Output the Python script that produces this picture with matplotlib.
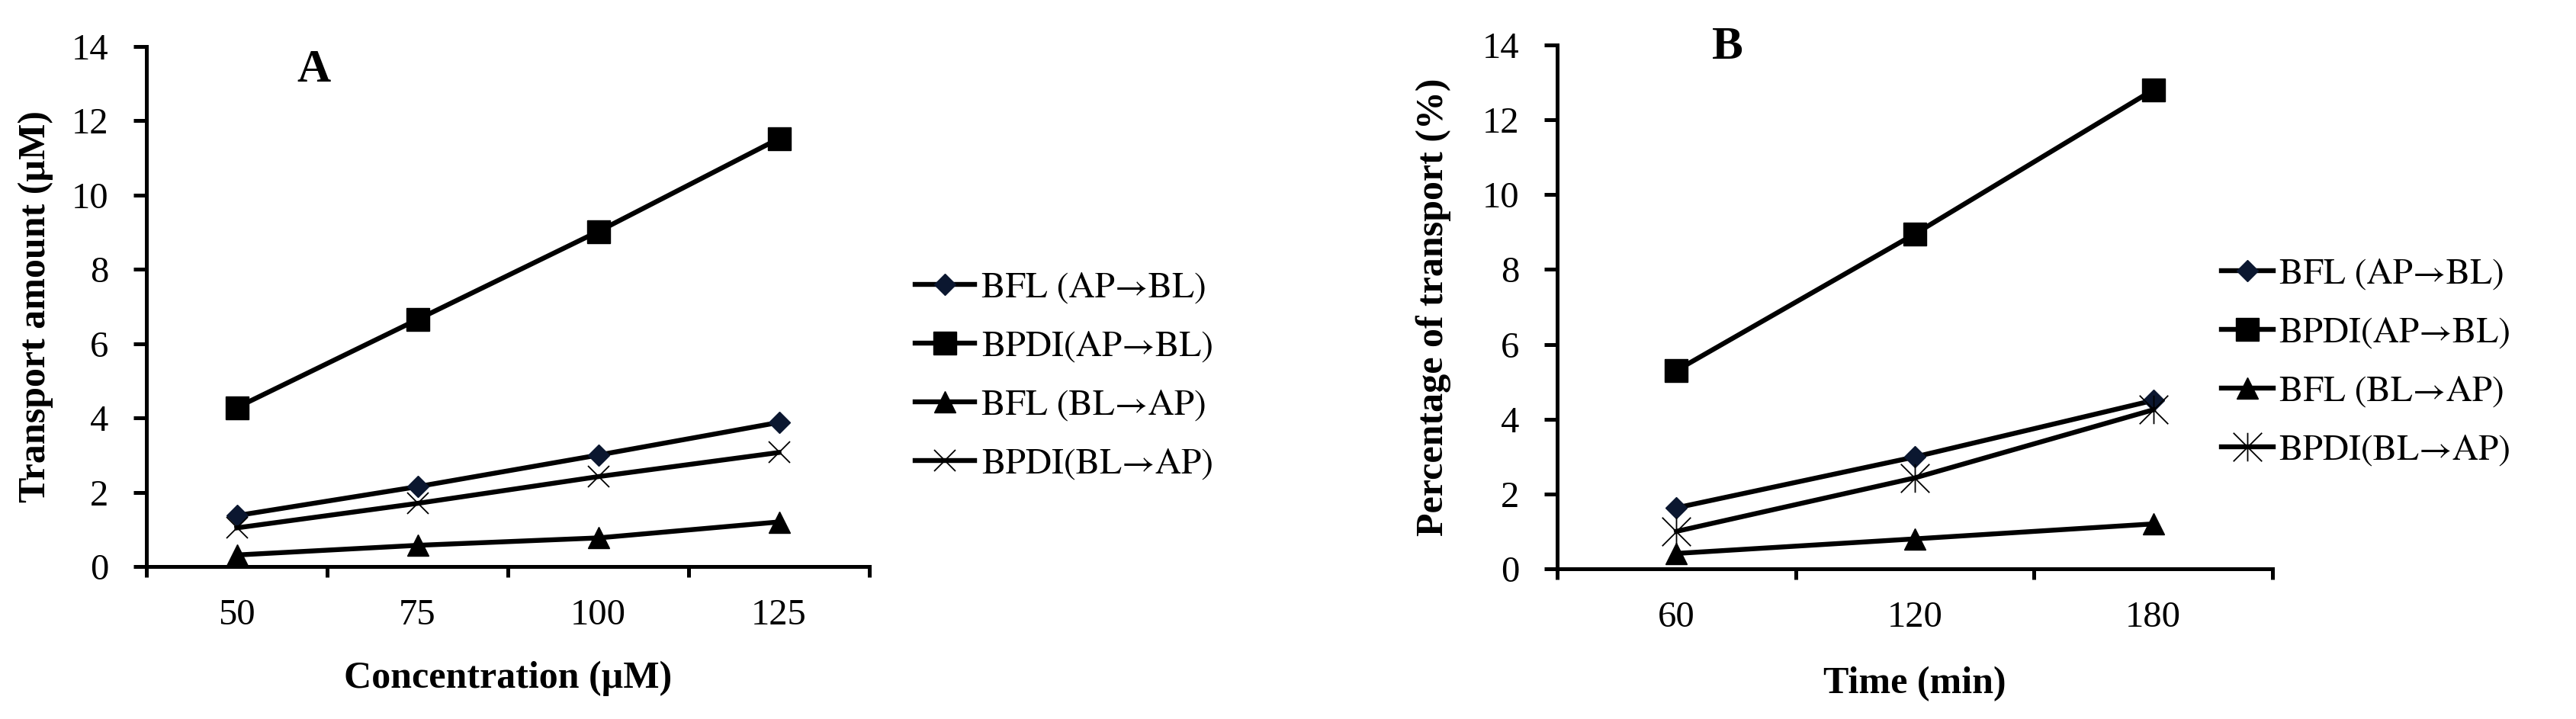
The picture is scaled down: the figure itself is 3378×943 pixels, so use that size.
import numpy as np
import matplotlib.pyplot as plt
from matplotlib.path import Path

plt.rcParams['font.family'] = ['Liberation Serif', 'DejaVu Serif']

# panel A: concentration series
conc = ['50', '75', '100', '125']
a_bfl_ap = [1.37, 2.15, 3.0, 3.88]
a_bpdi_ap = [4.28, 6.65, 9.02, 11.52]
a_bfl_bl = [0.31, 0.57, 0.77, 1.2]
a_bpdi_bl = [1.04, 1.7, 2.42, 3.07]

# panel B: time series
times = ['60', '120', '180']
b_bfl_ap = [1.63, 2.99, 4.5]
b_bpdi_ap = [5.3, 8.95, 12.8]
b_bfl_bl = [0.41, 0.8, 1.2]
b_bpdi_bl = [1.0, 2.43, 4.25]

labels = ['BFL (AP→BL)', 'BPDI(AP→BL)', 'BFL (BL→AP)', 'BPDI(BL→AP)']

star = Path([(-1, -1), (1, 1), (-1, 1), (1, -1), (0, -1), (0, 1)],
            [Path.MOVETO, Path.LINETO] * 3)

fig = plt.figure(figsize=(33.78, 9.43), dpi=100)
axA = fig.add_axes([192 / 3378, 1 - 743 / 943, 948 / 3378, 682 / 943])
axB = fig.add_axes([2042 / 3378, 1 - 746 / 943, 938 / 3378, 687 / 943])

lw = 4.6


def draw(ax, cats, s1, s2, s3, s4, xmark, xms):
    x = np.arange(len(cats)) + 0.5
    ax.plot(x, s1, color='black', lw=lw, marker='D', ms=14.5,
            mfc='#0b1730', mec='#0b1730', label=labels[0])
    ax.plot(x, s2, color='black', lw=lw, marker='s', ms=21, label=labels[1])
    ax.plot(x, s3, color='black', lw=lw, marker='^', ms=20, label=labels[2])
    ax.plot(x, s4, color='black', lw=lw, marker=xmark, ms=xms, mew=1.3,
            fillstyle='none', label=labels[3])

    ax.set_xlim(0, len(cats))
    ax.set_ylim(0, 14)
    ax.set_yticks(range(0, 15, 2))
    ax.set_xticks(range(len(cats) + 1))
    ax.set_xticklabels([])
    ax.set_xticks(x, minor=True)
    ax.set_xticklabels(cats, minor=True)
    ax.tick_params(axis='x', which='minor', length=0, pad=30, labelsize=35)
    ax.tick_params(axis='x', which='major', length=10, width=3.6)
    ax.tick_params(axis='y', length=12, width=3.6, pad=24, labelsize=35)
    for s in ['top', 'right']:
        ax.spines[s].set_visible(False)
    for s in ['left', 'bottom']:
        ax.spines[s].set_linewidth(3.6)


draw(axA, conc, a_bfl_ap, a_bpdi_ap, a_bfl_bl, a_bpdi_bl, 'x', 20)
draw(axB, times, b_bfl_ap, b_bpdi_ap, b_bfl_bl, b_bpdi_bl, star, 27)

axA.set_xlabel('Concentration (µM)', fontsize=36, fontweight='bold', va='center')
axA.xaxis.set_label_coords(0.5, -0.215)
axA.set_ylabel('Transport amount (µM)', fontsize=36, fontweight='bold', va='center')
axA.yaxis.set_label_coords(-0.153, 0.5)

axB.set_xlabel('Time (min)', fontsize=36, fontweight='bold', va='center')
axB.xaxis.set_label_coords(0.5, -0.22)
axB.set_ylabel('Percentage of transport (%)', fontsize=36, fontweight='bold', va='center')
axB.yaxis.set_label_coords(-0.173, 0.5)

fig.text(412 / 3378, 1 - 92 / 943, 'A', fontsize=44, fontweight='bold',
         ha='center', va='center')
fig.text(2265 / 3378, 1 - 62 / 943, 'B', fontsize=44, fontweight='bold',
         ha='center', va='center')

leg_font = {'family': ['STIXGeneral', 'Liberation Serif'], 'size': 34}
axA.legend(loc='upper left', bbox_to_anchor=(1200 / 3378, 1 - 356 / 943),
           bbox_transform=fig.transFigure, frameon=False, prop=leg_font,
           borderaxespad=0, borderpad=0, handlelength=1.65, handletextpad=0.2,
           labelspacing=0.72)
axB.legend(loc='upper left', bbox_to_anchor=(2913 / 3378, 1 - 338 / 943),
           bbox_transform=fig.transFigure, frameon=False, prop=leg_font,
           borderaxespad=0, borderpad=0, handlelength=1.45, handletextpad=0.15,
           labelspacing=0.72)

fig.savefig('out.png', dpi=100)
